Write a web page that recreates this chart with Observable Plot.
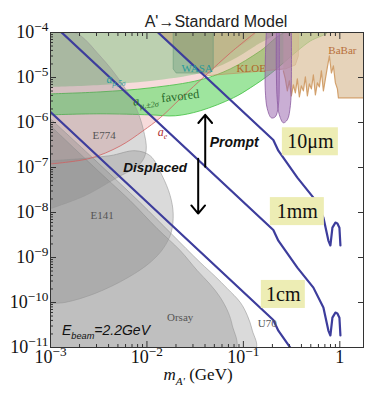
<!DOCTYPE html>
<html><head><meta charset="utf-8">
<script src="https://cdn.jsdelivr.net/npm/d3@7"></script>
<script src="https://cdn.jsdelivr.net/npm/@observablehq/plot@0.6"></script>
<style>html,body{margin:0;padding:0;background:#fff;}#chart{width:368px;height:394px;overflow:hidden;}</style>
</head><body><div id="chart"></div>
<script>
// ---------- data: mass m_A' (GeV) and epsilon^2 ----------
// gray beam-dump exclusion regions
const e774M = [0.001, 0.001796, 0.003266, 0.005268, 0.007543, 0.009131, 0.00981, 0.0085, 0.004675, 0.002282, 0.001];
const e774E = [1e-4, 1e-4, 3.01e-5, 8.41e-6, 2.35e-6, 7.25e-7, 2.36e-7, 1.21e-7, 5.64e-8, 2.37e-8, 1.22e-8];
const e141M = [0.001, 0.002024, 0.004148, 0.007543, 0.01079, 0.01438, 0.01741, 0.01871, 0.01783, 0.01473, 0.01079, 0.006379, 0.002899, 0.001415, 0.001];
const e141E = [1.415e-7, 1.567e-7, 1.83e-7, 2.36e-7, 1.83e-7, 6.58e-8, 2.37e-8, 9.45e-9, 3.58e-9, 1.58e-9, 7.75e-10, 3.6e-10, 1.59e-10, 1.005e-10, 9.55e-11];
const orsayM = [0.001, 0.003266, 0.006691, 0.01276, 0.02212, 0.03321, 0.04531, 0.05756, 0.06968, 0.07667, 0.08238, 0.001];
const orsayE = [8.45e-7, 7.67e-8, 1.84e-8, 4.4e-9, 1.43e-9, 5.15e-10, 2.52e-10, 1.3e-10, 6.03e-11, 3.11e-11, 9e-12, 9e-12];
const u70M = [0.001, 0.003266, 0.0085, 0.01741, 0.03568, 0.05108, 0.06803, 0.09286, 0.1098, 0.1237, 0.1329, 0.001];
const u70E = [1.21e-6, 1.15e-7, 1.66e-8, 3.58e-9, 7.75e-10, 3.79e-10, 2.05e-10, 1.005e-10, 5.18e-11, 2.41e-11, 9e-12, 9e-12];
// a_e excluded region (above line)
const aeM = [0.001, 0.1329, 0.07311, 0.04218, 0.02212, 0.01371, 0.009131, 0.005268, 0.002571, 0.001];
const aeE = [1e-4, 1e-4, 3.51e-5, 1.2e-5, 3.35e-6, 1.27e-6, 6.55e-7, 3.0e-7, 1.6e-7, 1.2e-7];
// a_mu 5 sigma region (above curve)
const g5M = [0.001, 0.003266, 0.01079, 0.03568, 0.07311, 0.1329, 0.2144, 0.001];
const g5E = [6.19e-6, 6.85e-6, 8.41e-6, 1.26e-5, 2.33e-5, 5.02e-5, 1e-4, 1e-4];
// a_mu +-2 sigma favored band
const favUpperM = [0.001, 0.003266, 0.01079, 0.03568, 0.07311, 0.1498, 0.2723];
const favUpperE = [4.33e-6, 4.79e-6, 5.88e-6, 8.85e-6, 1.55e-5, 3.89e-5, 1e-4];
const favLowerM = [0.001, 0.003266, 0.01079, 0.01963, 0.03568, 0.07853, 0.1179, 0.1902, 0.3628, 0.4951, 0.7436];
const favLowerE = [1.48e-6, 1.56e-6, 1.48e-6, 1.41e-6, 1.82e-6, 3.53e-6, 5.88e-6, 1.2e-5, 3.89e-5, 6.48e-5, 1e-4];
// KLOE, WASA
const kloeM = [0.01276, 0.04218, 0.05108, 0.09286, 0.2723, 0.3458, 0.3716, 0.3716];
const kloeE = [1e-4, 1.085e-5, 1.14e-5, 1.26e-5, 1.55e-5, 1.9e-5, 3.01e-5, 1e-4];
const wasaM = [0.01871, 0.01871, 0.0201, 0.04531, 0.0487, 0.0487];
const wasaE = [1e-4, 1.55e-5, 1.26e-5, 1.26e-5, 1.55e-5, 1e-4];
// BaBar jagged lower edge
const babarM = [0.2596, 0.2723, 0.2856, 0.2996, 0.3144, 0.3298, 0.3458, 0.3628, 0.3806, 0.3992, 0.4188, 0.4393, 0.4608, 0.4834, 0.5071, 0.532, 0.558, 0.5853, 0.614, 0.644, 0.6756, 0.7086, 0.7436, 0.7798, 0.818, 0.858, 0.9, 0.9443, 0.9672, 1.143, 1.8];
const babarE = [1.4e-5, 9.31e-6, 5.05e-6, 8.41e-6, 3.91e-6, 6.85e-6, 4.56e-6, 9.31e-6, 3.71e-6, 6.51e-6, 5.05e-6, 1.031e-5, 3.91e-6, 7.21e-6, 5.59e-6, 1.14e-5, 4.11e-6, 7.59e-6, 6.19e-6, 1.4e-5, 5.05e-6, 9.31e-6, 1.72e-5, 3.01e-5, 1.26e-5, 1.81e-5, 7.59e-6, 5.59e-6, 3.53e-6, 3.53e-6, 3.53e-6];
// purple lobes
const lobe1M = [0.1729, 0.1688, 0.1688, 0.1771, 0.1949, 0.2144, 0.2304, 0.2359, 0.2359];
const lobe1E = [1e-4, 2.33e-5, 5.05e-6, 2.01e-6, 1.27e-6, 1.34e-6, 2.35e-6, 8.41e-6, 1e-4];
const lobe2M = [0.2196, 0.2196, 0.2249, 0.2359, 0.2596, 0.2856, 0.3069, 0.3144, 0.3144];
const lobe2E = [1e-4, 1.4e-5, 3.03e-6, 1.48e-6, 9.85e-7, 1.15e-6, 2.35e-6, 8.41e-6, 1e-4];
// decay-length contours
const decayM = [0.001, 0.2044, 0.2304, 0.3628, 0.532, 0.6756, 0.761, 0.7987, 0.838, 0.9, 0.9443, 0.9904, 1.0144];
const eps10um = [1.706e-2, 4.08e-7, 2.36e-7, 5.94e-8, 2.14e-8, 7.7e-9, 2.38e-9, 1.85e-9, 4.6e-9, 5.97e-9, 5.7e-9, 4.6e-9, 1.85e-9];
const eps1mm = [1.706e-4, 4.08e-9, 2.36e-9, 5.94e-10, 2.14e-10, 7.7e-11, 2.38e-11, 1.85e-11, 4.6e-11, 5.97e-11, 5.7e-11, 4.6e-11, 1.85e-11];
const eps1cm = [1.706e-6, 4.08e-11, 2.36e-11, 5.94e-12, 2.14e-12, 7.7e-13, 2.38e-13, 1.85e-13, 4.6e-13, 5.97e-13, 5.7e-13, 4.6e-13, 1.85e-13];
// contour labels
const contourText = ["10μm", "1mm", "1cm"];
const contourM = [0.4951, 0.3628, 0.2596];
const contourE = [3.73e-7, 1.047e-8, 1.51e-10];
// region labels
const grayText = ["E774", "E141", "Orsay", "U70"];
const grayM = [0.003594, 0.003425, 0.0221, 0.177];
const grayE = [5.07e-7, 8.53e-9, 4.7e-11, 3.44e-11];
// ticks
const xTickValues = [1e-3, 1e-2, 1e-1, 1];
const xTickLabels = ["10^{−3}", "10^{−2}", "10^{−1}", "1"];
const yTickValues = [1e-11, 1e-10, 1e-9, 1e-8, 1e-7, 1e-6, 1e-5, 1e-4];
const yTickLabels = ["10^{−11}", "10^{−10}", "10^{−9}", "10^{−8}", "10^{−7}", "10^{−6}", "10^{−5}", "10^{−4}"];

// ---------- helpers ----------
const serif = "'Liberation Serif','Times New Roman',serif";
const sans = "'Liberation Sans',Arial,sans-serif";
const pts = (ms, es) => ms.map((m, i) => ({m, e: es[i]}));
const region = (ms, es, o) => Plot.line(pts(ms, es), {x: "m", y: "e", clip: true, curve: "catmull-rom", ...o});
const favBand = pts(favUpperM, favUpperE).concat(pts(favLowerM, favLowerE).reverse());
const babarPoly = pts(babarM, babarE).concat([{m: 1.8, e: 1e-4}, {m: 0.2596, e: 1e-4}]);
const minors = (lo, hi, max) => { const a = []; for (let d = lo; d <= hi; d++) for (let k = 2; k <= 9; k++) { const v = k * 10 ** d; if (v <= max) a.push(v); } return a; };
const xMinor = minors(-3, 0, 1.76);
const yMinor = minors(-11, -5, 1e-4);
const boxW = {"10μm": 28, "1mm": 27, "1cm": 22};
const contours = contourText.map((t, i) => ({t, m: contourM[i], e: contourE[i]}));
const grayLabels = grayText.map((t, i) => ({t, m: grayM[i], e: grayE[i]}));
const xfmt = d => xTickLabels[xTickValues.indexOf(d)];
const yfmt = d => yTickLabels[yTickValues.indexOf(d)];
const blank = () => "";
const grayStyle = {fill: "#7a7a7a", fillOpacity: 0.28, stroke: "#999", strokeWidth: 0.6};

const plot = Plot.plot({
  width: 368, height: 394,
  marginLeft: 50, marginRight: 5, marginTop: 32, marginBottom: 47,
  style: {background: "white", fontFamily: serif},
  x: {type: "log", domain: [1e-3, 1.76], label: null},
  y: {type: "log", domain: [1e-11, 1e-4], label: null},
  marks: [
    region(aeM, aeE, {fill: "#f3cccc", fillOpacity: 0.7, stroke: "none"}),
    region(g5M, g5E, {fill: "#8cc68c", fillOpacity: 0.55, stroke: "none"}),
    Plot.line(favBand, {x: "m", y: "e", clip: true, curve: "catmull-rom", fill: "#86de86", fillOpacity: 0.8, stroke: "#3fbf3f", strokeWidth: 0.8}),
    region(u70M, u70E, grayStyle),
    region(orsayM, orsayE, grayStyle),
    region(e141M, e141E, grayStyle),
    region(e774M, e774E, grayStyle),
    region(kloeM, kloeE, {fill: "#c49a62", fillOpacity: 0.45, stroke: "#c09060", strokeWidth: 0.6, curve: "linear"}),
    region(wasaM, wasaE, {fill: "#4f8a6a", fillOpacity: 0.3, stroke: "#6a9a7a", strokeWidth: 0.6, curve: "linear"}),
    Plot.line(babarPoly, {x: "m", y: "e", clip: true, fill: "#dcc09c", fillOpacity: 0.7, stroke: "none"}),
    Plot.line(pts(babarM, babarE), {x: "m", y: "e", clip: true, stroke: "#d2a06c", strokeWidth: 1.2}),
    region(lobe1M, lobe1E, {fill: "#9c6cb0", fillOpacity: 0.55, stroke: "#8a5aa0", strokeWidth: 0.8}),
    region(lobe2M, lobe2E, {fill: "#9c6cb0", fillOpacity: 0.55, stroke: "#8a5aa0", strokeWidth: 0.8}),
    Plot.line(pts(aeM.slice(1), aeE.slice(1)), {x: "m", y: "e", clip: true, curve: "catmull-rom", stroke: "#d06060", strokeWidth: 0.8}),
    // decay-length contours
    Plot.line(pts(decayM, eps10um), {x: "m", y: "e", clip: true, stroke: "#3d3d9c", strokeWidth: 2.2}),
    Plot.line(pts(decayM, eps1mm), {x: "m", y: "e", clip: true, stroke: "#3d3d9c", strokeWidth: 2.2}),
    Plot.line(pts(decayM, eps1cm), {x: "m", y: "e", clip: true, stroke: "#3d3d9c", strokeWidth: 2.2}),
    // contour labels with boxes
    ...contours.map(c => Plot.rect([c], {x1: "m", x2: "m", y1: "e", y2: "e", fill: "#ededb4",
      insetLeft: -boxW[c.t], insetRight: -boxW[c.t], insetTop: -14, insetBottom: -14})),
    Plot.text(contours, {x: "m", y: "e", text: "t", fontSize: 20, fontFamily: serif, fill: "#111"}),
    // region labels
    Plot.text(grayLabels, {x: "m", y: "e", text: "t", fontSize: 11, fontFamily: serif, fill: "#555"}),
    Plot.text(["WASA"], {x: 0.0332, y: 1.6e-5, text: d => d, fontSize: 11, fontFamily: serif, fill: "#2a9a9a"}),
    Plot.text(["KLOE"], {x: 0.1207, y: 1.6e-5, text: d => d, fontSize: 11, fontFamily: serif, fill: "#b06a2a"}),
    Plot.text(["BaBar"], {x: 1.064, y: 3.89e-5, text: d => d, fontSize: 11, fontFamily: serif, fill: "#b8703a"}),
    Plot.text(["a_{μ,5σ}"], {x: 0.004788, y: 9.31e-6, text: d => d, fontSize: 11.5, fontFamily: serif, fontStyle: "italic", fill: "#2c9ea0"}),
    Plot.text(["a_{μ,±2σ}~{ favored}"], {x: 0.00719, y: 2.88e-6, text: d => d, textAnchor: "start", rotate: -7, fontSize: 12.5, fontFamily: serif, fontStyle: "italic", fill: "#2a6a2a"}),
    Plot.text(["a_{e}"], {x: 0.0145, y: 6.2e-7, text: d => d, fontSize: 12, fontFamily: serif, fontStyle: "italic", fill: "#b03030"}),
    // prompt / displaced
    Plot.arrow([{m: 0.04021, e1: 1.04e-7, e2: 1.48e-6}, {m: 0.034, e1: 1.57e-7, e2: 9.45e-9}], {x1: "m", x2: "m", y1: "e1", y2: "e2", stroke: "#000", strokeWidth: 2, headLength: 8, headAngle: 80}),
    Plot.text(["Prompt"], {x: 0.0804, y: 3.55e-7, text: d => d, fontSize: 14, fontFamily: sans, fontWeight: "bold", fontStyle: "italic", fill: "#111"}),
    Plot.text(["Displaced"], {x: 0.01216, y: 9.9e-8, text: d => d, fontSize: 13.5, fontFamily: sans, fontWeight: "bold", fontStyle: "italic", fill: "#111"}),
    Plot.text(["E_{beam}=2.2GeV"], {x: 0.001316, y: 2.4e-11, text: d => d, textAnchor: "start", fontSize: 14, fontFamily: sans, fontStyle: "italic", fill: "#111"}),
    // frame and axes
    Plot.frame({stroke: "#333", strokeWidth: 1}),
    Plot.axisX(xMinor, {anchor: "bottom", tickSize: -3, tickFormat: blank, label: null, stroke: "#333"}),
    Plot.axisX(xTickValues, {anchor: "bottom", tickSize: -6, tickFormat: blank, label: null, stroke: "#333"}),
    Plot.axisX(xMinor, {anchor: "top", tickSize: -3, tickFormat: blank, label: null, stroke: "#333"}),
    Plot.axisX(xTickValues, {anchor: "top", tickSize: -6, tickFormat: blank, label: null, stroke: "#333"}),
    Plot.axisY(yMinor, {anchor: "left", tickSize: -3, tickFormat: blank, label: null, stroke: "#333"}),
    Plot.axisY(yTickValues, {anchor: "left", tickSize: -6, tickFormat: blank, label: null, stroke: "#333"}),
    Plot.axisY(yTickValues, {anchor: "right", tickSize: -6, tickFormat: blank, label: null, stroke: "#333"}),
    Plot.axisX(xTickValues, {anchor: "bottom", tickSize: 0, tickPadding: 3, tickFormat: xfmt, label: null, fontSize: 18, fontFamily: serif, fill: "#111"}),
    Plot.axisY(yTickValues, {anchor: "left", tickSize: 0, tickPadding: 2, tickFormat: yfmt, label: null, fontSize: 18, fontFamily: serif, fill: "#111"}),
    Plot.text(["A'→Standard Model"], {frameAnchor: "top", dy: -17, dx: 9, text: d => d, fontSize: 16, fontFamily: sans, fill: "#222"}),
    Plot.text(["m_{A'}~{ (GeV)}"], {frameAnchor: "bottom", dy: 32, dx: -9, text: d => d, fontSize: 17, fontFamily: serif, fontStyle: "italic", fill: "#111"})
  ]
});
document.getElementById("chart").appendChild(plot);

// render _{sub}, ^{sup}, ~{upright} markup as tspans
plot.querySelectorAll("text").forEach(t => {
  const s = t.textContent;
  if (!/[_^~]\{/.test(s)) return;
  const fs = parseFloat(getComputedStyle(t).fontSize) || 12;
  const parts = s.split(/([_^~]\{[^}]*\})/).filter(p => p !== "");
  while (t.firstChild) t.removeChild(t.firstChild);
  let shift = 0;
  for (const p of parts) {
    const ts = document.createElementNS("http://www.w3.org/2000/svg", "tspan");
    let target = 0, txt = p, size = null, style = null;
    const mm = p.match(/^([_^~])\{([^}]*)\}$/);
    if (mm) {
      txt = mm[2];
      if (mm[1] === "_") { target = 0.3 * fs; size = 0.66 * fs; }
      else if (mm[1] === "^") { target = -0.42 * fs; size = 0.74 * fs; }
      else style = "normal";
    }
    const dy = target - shift;
    if (dy) ts.setAttribute("dy", dy.toFixed(2));
    shift = target;
    if (size) ts.setAttribute("font-size", size.toFixed(1));
    if (style) ts.setAttribute("font-style", style);
    ts.textContent = txt;
    t.appendChild(ts);
  }
});
</script></body></html>
